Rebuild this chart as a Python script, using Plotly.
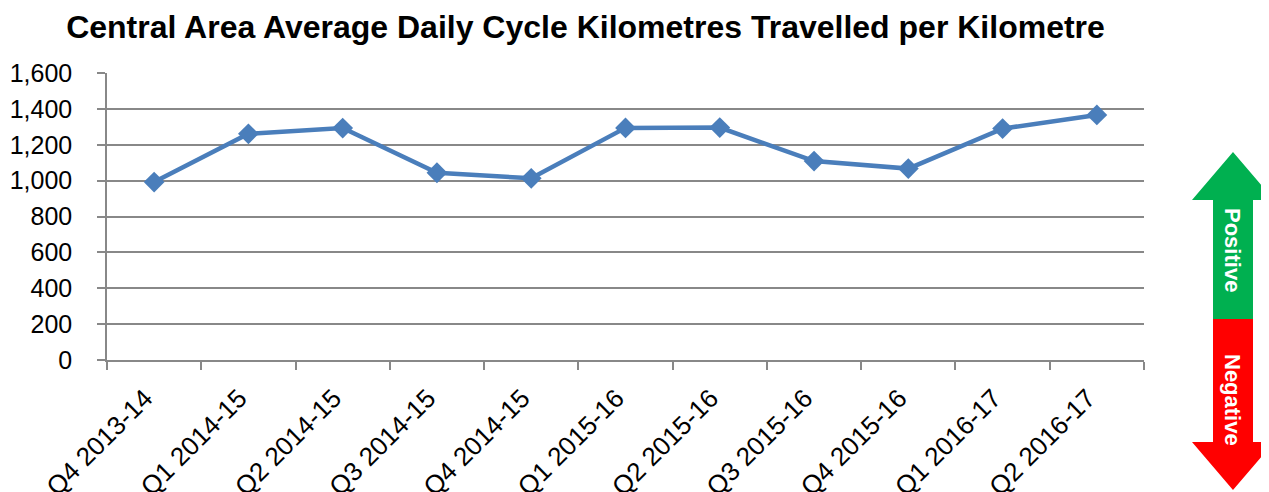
import plotly.graph_objects as go

categories = ["Q4 2013-14", "Q1 2014-15", "Q2 2014-15", "Q3 2014-15", "Q4 2014-15",
              "Q1 2015-16", "Q2 2015-16", "Q3 2015-16", "Q4 2015-16", "Q1 2016-17", "Q2 2016-17"]
values = [992, 1261, 1293, 1044, 1013, 1294, 1296, 1109, 1067, 1290, 1366]
y_ticks = [0, 200, 400, 600, 800, 1000, 1200, 1400, 1600]
y_tick_labels = ["0", "200", "400", "600", "800", "1,000", "1,200", "1,400", "1,600"]

W, H = 1269, 492
OFF = 8  # page body margin
L, R, T, B = 107 - OFF, 1144 - OFF, 73 - OFF, 360 - OFF  # plot area in figure pixels


def px(x):
    return (x - OFF - L) / (R - L)


def py(y):
    return (B - (y - OFF)) / (B - T)


fig = go.Figure()
fig.add_trace(go.Scatter(
    x=categories, y=values, mode="lines+markers",
    line=dict(color="#4A7EBB", width=4.5),
    marker=dict(symbol="diamond", size=16, color="#4A7EBB"),
    showlegend=False, hoverinfo="x+y",
))

grid = "#888888"
FONT = "Liberation Sans, Arial, sans-serif"
fig.update_layout(
    width=W, height=H,
    margin=dict(l=L, r=W - R, t=T, b=H - B, pad=0, autoexpand=False),
    paper_bgcolor="white", plot_bgcolor="white",
    font=dict(family=FONT, color="black", size=24),
    title=dict(
        text="<b>Central Area Average Daily Cycle Kilometres Travelled per Kilometre</b>",
        x=px(585.5), xref="paper", xanchor="center",
        y=1 - (27 - OFF) / H, yref="container", yanchor="middle",
        font=dict(size=32, family=FONT, color="black"),
    ),
    xaxis=dict(
        type="category", tickangle=-45, tickson="boundaries", automargin=False,
        ticks="outside", ticklen=8, tickcolor=grid, tickwidth=1.5,
        showline=True, linecolor=grid, linewidth=1.5,
        showgrid=False, zeroline=False, ticklabelstandoff=11, ticklabelshift=-9,
        tickfont=dict(size=26), range=[-0.5, len(categories) - 0.5],
    ),
    yaxis=dict(
        range=[0, 1600], tickvals=y_ticks, ticktext=y_tick_labels, automargin=False,
        ticks="outside", ticklen=8, tickcolor=grid, tickwidth=1.5,
        showline=True, linecolor=grid, linewidth=1.5,
        showgrid=True, gridcolor=grid, gridwidth=1.5, zeroline=False,
        ticklabelstandoff=20,
        tickfont=dict(size=25),
    ),
)

# Positive / Negative double arrow on the right (screen pixel coordinates)
cx = 1233
shaft_l, shaft_r = 1213, 1253
head_l, head_r = 1192, 1274
top_tip, top_base = 152, 200
split = 319
bot_base, bot_tip = 442, 490


def path(pts):
    return "M " + " L ".join(f"{px(x):.5f},{py(y):.5f}" for x, y in pts) + " Z"


green_pts = [(cx, top_tip), (head_r, top_base), (shaft_r, top_base), (shaft_r, split),
             (shaft_l, split), (shaft_l, top_base), (head_l, top_base)]
red_pts = [(shaft_l, split), (shaft_r, split), (shaft_r, bot_base), (head_r, bot_base),
           (cx, bot_tip), (head_l, bot_base), (shaft_l, bot_base)]
fig.add_shape(type="path", xref="paper", yref="paper", path=path(green_pts),
              fillcolor="#00B050", line=dict(width=0), layer="above")
fig.add_shape(type="path", xref="paper", yref="paper", path=path(red_pts),
              fillcolor="#FF0000", line=dict(width=0), layer="above")

fig.add_annotation(x=px(cx), y=py(250), xref="paper", yref="paper", text="<b>Positive</b>",
                   textangle=90, showarrow=False, xanchor="center", yanchor="middle",
                   font=dict(color="white", size=22, family=FONT))
fig.add_annotation(x=px(cx), y=py(400), xref="paper", yref="paper", text="<b>Negative</b>",
                   textangle=90, showarrow=False, xanchor="center", yanchor="middle",
                   font=dict(color="white", size=22, family=FONT))

fig.write_html("out.html")
